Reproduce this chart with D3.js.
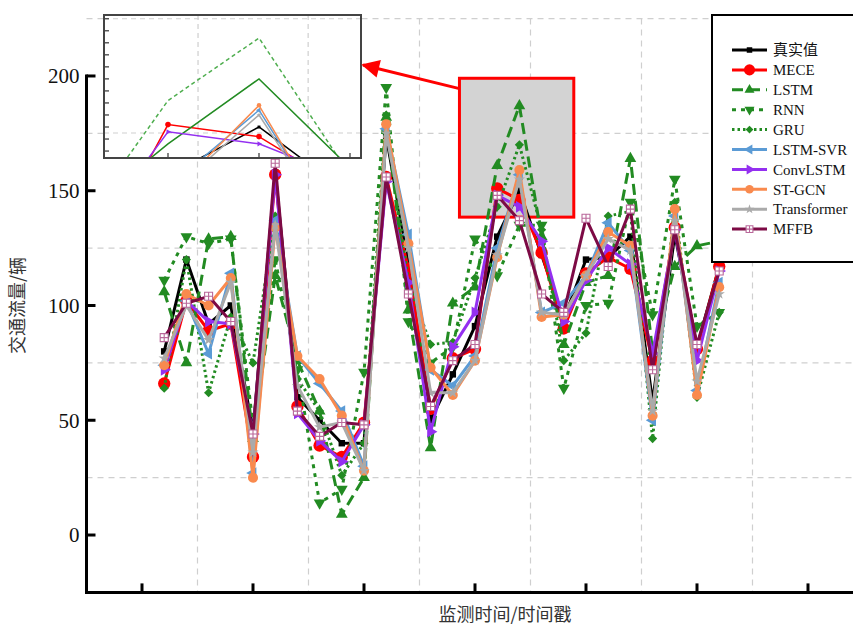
<!DOCTYPE html>
<html lang="zh">
<head>
<meta charset="UTF-8">
<title>交通流量预测对比</title>
<script src="https://cdn.jsdelivr.net/npm/d3@7"></script>
<style>
    body { margin: 0; background: #fff; }
    svg { display: block; font-family: "Liberation Serif", "Times New Roman", serif; }
</style>
</head>
<body>
<div id="chart"></div>
<script>
// time steps 1..26
const steps = d3.range(1, 27);

const truth       = [80, 120, 92, 100, 45, 158, 60, 50, 40, 40, 174, 118, 50, 70, 91, 130, 150, 122, 94, 120, 121, 130, 58, 131, 82, 117];
const mece        = [66, 102, 89, 92, 34, 157, 56, 39, 34, 49, 156, 116, 55, 77, 81, 151, 146, 123, 90, 114, 121, 116, 76, 134, 81, 117];
const lstm        = [106, 75, 129, 130, 42, 113, 76, 54, 9, 25, 182, 98, 38, 101, 108, 161, 187, 130, 83, 110, 113, 164, 80, 117, 126, 128];
const rnn         = [111, 130, 127, 129, 48, 120, 72, 14, 20, 71, 195, 93, 75, 82, 129, 113, 135, 135, 64, 100, 101, 145, 96, 155, 91, 97];
const gru         = [64, 120, 62, 95, 75, 139, 68, 54, 26, 40, 183, 110, 83, 84, 112, 143, 170, 133, 76, 88, 139, 141, 42, 145, 60, 97];
const lstmSvr     = [74, 102, 79, 114, 27, 137, 78, 66, 54, 30, 177, 131, 72, 65, 78, 125, 157, 97, 101, 113, 136, 124, 50, 139, 63, 110];
const convLstm    = [72, 102, 93, 92, 44, 157, 53, 41, 32, 48, 154, 110, 45, 82, 97, 148, 143, 128, 93, 111, 125, 118, 79, 133, 76, 115];
const stGcn       = [74, 105, 100, 112, 25, 134, 78, 68, 52, 28, 179, 127, 73, 61, 76, 121, 159, 95, 96, 113, 132, 126, 52, 142, 61, 108];
const transformer = [77, 100, 85, 110, 36, 135, 65, 47, 49, 28, 175, 125, 62, 62, 76, 122, 155, 97, 96, 113, 129, 124, 54, 137, 67, 105];
const mffb        = [86, 101, 104, 93, 44, 162, 54, 43, 49, 48, 156, 105, 56, 76, 83, 148, 137, 105, 97, 138, 117, 142, 72, 133, 83, 115];

const yTicks = [0, 50, 100, 150, 200];
const xTicks = [0, 5, 10, 15, 20, 25, 30];

// zoomed window shown in the inset
const zoomT = [14.3, 19.45];
const zoomV = [138.5, 199];

const series = [
    {name: "真实值",      values: truth,       color: "#000000", dash: null,      sym: "square"},
    {name: "MECE",        values: mece,        color: "#ff0000", dash: null,      sym: "circle"},
    {name: "LSTM",        values: lstm,        color: "#228b22", dash: "11,6",    sym: "up"},
    {name: "RNN",         values: rnn,         color: "#228b22", dash: "4,5",     sym: "down"},
    {name: "GRU",         values: gru,         color: "#228b22", dash: "2.5,3",   sym: "diamond"},
    {name: "LSTM-SVR",    values: lstmSvr,     color: "#5b9bd5", dash: null,      sym: "left"},
    {name: "ConvLSTM",    values: convLstm,    color: "#9430f0", dash: null,      sym: "right"},
    {name: "ST-GCN",      values: stGcn,       color: "#f98a4e", dash: null,      sym: "dot"},
    {name: "Transformer", values: transformer, color: "#aaaaaa", dash: null,      sym: "star"},
    {name: "MFFB",        values: mffb,        color: "#7d0a45", dash: null,      sym: "boxcross"}
];

const width = 853, height = 626;

const x = d3.scaleLinear().domain([-2.5, 32.5]).range([86.5, 863.5]);
const y = d3.scaleLinear().domain([-25, 225]).range([592.4, 18.6]);

const svg = d3.select("#chart").append("svg")
    .attr("width", width)
    .attr("height", height)
    .attr("viewBox", [0, 0, width, height]);

// marker drawing
function marker(g, sym, color, scale) {
    const s = scale || 1;
    let el;
    if (sym === "square") {
        el = g.append("path").attr("d", d3.symbol(d3.symbolSquare, 42 * s * s)()).attr("fill", color);
    } else if (sym === "circle") {
        el = g.append("path").attr("d", d3.symbol(d3.symbolCircle, 120 * s * s)()).attr("fill", color);
    } else if (sym === "dot") {
        el = g.append("path").attr("d", d3.symbol(d3.symbolCircle, 80 * s * s)()).attr("fill", color);
    } else if (sym === "up" || sym === "down" || sym === "left" || sym === "right") {
        const rot = {up: 0, down: 180, left: -90, right: 90}[sym];
        el = g.append("path").attr("d", d3.symbol(d3.symbolTriangle, 60 * s * s)())
            .attr("fill", color).attr("transform", `rotate(${rot})`);
    } else if (sym === "diamond") {
        el = g.append("path").attr("d", d3.symbol(d3.symbolSquare, 42 * s * s)())
            .attr("fill", color).attr("transform", "rotate(45)");
    } else if (sym === "star") {
        el = g.append("path").attr("d", d3.symbol(d3.symbolStar, 40 * s * s)()).attr("fill", color);
    } else if (sym === "boxcross") {
        const h = 4 * s;
        el = g.append("path")
            .attr("d", `M${-h},${-h}H${h}V${h}H${-h}Z M0,${-h}V${h} M${-h},0H${h}`)
            .attr("fill", "#fff").attr("stroke", "#b9689a").attr("stroke-width", 1.1);
    }
    return el;
}

// grid
const grid = svg.append("g")
    .attr("stroke", "#cfcfcf")
    .attr("stroke-width", 1.2)
    .attr("stroke-dasharray", "6,5");

grid.selectAll("line.h")
    .data([25, 75, 125, 175, 225])
    .join("line")
    .attr("x1", x(-2.5)).attr("x2", width)
    .attr("y1", d => y(d)).attr("y2", d => y(d));

grid.selectAll("line.v")
    .data([2.5, 7.5, 12.5, 17.5, 22.5, 27.5])
    .join("line")
    .attr("x1", d => x(d)).attr("x2", d => x(d))
    .attr("y1", y(225)).attr("y2", y(-25));

// zoom window rectangle
svg.append("rect")
    .attr("x", x(zoomT[0])).attr("y", y(zoomV[1]))
    .attr("width", x(zoomT[1]) - x(zoomT[0]))
    .attr("height", y(zoomV[0]) - y(zoomV[1]))
    .attr("fill", "#d3d3d3")
    .attr("stroke", "#ff0000")
    .attr("stroke-width", 3);

// series
const line = d3.line().x((d, i) => x(steps[i])).y(d => y(d));

series.forEach(s => {
    const g = svg.append("g");
    g.append("path")
        .attr("d", line(s.values))
        .attr("fill", "none")
        .attr("stroke", s.color)
        .attr("stroke-width", 3)
        .attr("stroke-linejoin", "round")
        .attr("stroke-dasharray", s.dash);
    s.values.forEach((v, i) => {
        const m = g.append("g").attr("transform", `translate(${x(steps[i])},${y(v)})`);
        marker(m, s.sym, s.color, 1);
    });
});

// inset
const inset = {x0: 104, y0: 15, x1: 361, y1: 158};
const ix = d3.scaleLinear().domain([16, 17]).range([168, 259]);
const iy = d3.scaleLinear().domain([150, 187]).range([127, 38]);

const ig = svg.append("g");
ig.append("rect")
    .attr("x", inset.x0).attr("y", inset.y0)
    .attr("width", inset.x1 - inset.x0).attr("height", inset.y1 - inset.y0)
    .attr("fill", "#fff");

svg.append("clipPath").attr("id", "insetClip")
    .append("rect")
    .attr("x", inset.x0).attr("y", inset.y0)
    .attr("width", inset.x1 - inset.x0).attr("height", inset.y1 - inset.y0);

const igc = ig.append("g").attr("clip-path", "url(#insetClip)");

igc.append("g")
    .attr("stroke", "#cfcfcf").attr("stroke-width", 1.2).attr("stroke-dasharray", "5,4")
    .selectAll("line")
    .data([16.33, 17.54])
    .join("line")
    .attr("x1", d => ix(d)).attr("x2", d => ix(d))
    .attr("y1", inset.y0).attr("y2", inset.y1);

igc.append("g")
    .attr("stroke", "#cfcfcf").attr("stroke-width", 1.2).attr("stroke-dasharray", "5,4")
    .selectAll("line")
    .data([147.5, 195])
    .join("line")
    .attr("x1", inset.x0).attr("x2", inset.x1)
    .attr("y1", d => iy(d)).attr("y2", d => iy(d));

const iline = d3.line().x((d, i) => ix(steps[i])).y(d => iy(d));
const insetStyle = {
    "LSTM": {color: "#4fae4f", dash: "4,3"},
    "GRU": {color: "#228b22", dash: null}
};
const insetSkip = ["RNN", "MFFB"];

series.filter(s => !insetSkip.includes(s.name)).forEach(s => {
    const st = insetStyle[s.name] || {color: s.color, dash: null};
    igc.append("path")
        .attr("d", iline(s.values))
        .attr("fill", "none")
        .attr("stroke", st.color)
        .attr("stroke-width", 1.5)
        .attr("stroke-dasharray", st.dash);
    if (!insetStyle[s.name]) {
        s.values.forEach((v, i) => {
            const m = igc.append("g").attr("transform", `translate(${ix(steps[i])},${iy(v)})`);
            marker(m, s.sym, s.color, 0.45);
        });
    }
});

// inset axes
const insetTicksY = d3.range(140, 200, 5);
ig.append("g").attr("stroke", "#333").attr("stroke-width", 1.2)
    .selectAll("line")
    .data(insetTicksY.filter(v => iy(v) > inset.y0 && iy(v) < inset.y1))
    .join("line")
    .attr("x1", inset.x0).attr("x2", inset.x0 + 5)
    .attr("y1", d => iy(d)).attr("y2", d => iy(d));

ig.append("g").attr("stroke", "#333").attr("stroke-width", 1.2)
    .selectAll("line")
    .data([16, 17, 18])
    .join("line")
    .attr("x1", d => ix(d)).attr("x2", d => ix(d))
    .attr("y1", inset.y1).attr("y2", inset.y1 - 5);

ig.append("rect")
    .attr("x", inset.x0).attr("y", inset.y0)
    .attr("width", inset.x1 - inset.x0).attr("height", inset.y1 - inset.y0)
    .attr("fill", "none")
    .attr("stroke", "#444")
    .attr("stroke-width", 2);

// arrow from zoom box to inset
svg.append("defs").append("marker")
    .attr("id", "arrowHead")
    .attr("viewBox", "0 0 10 10")
    .attr("refX", 9).attr("refY", 5)
    .attr("markerWidth", 8).attr("markerHeight", 6)
    .attr("markerUnits", "strokeWidth")
    .attr("orient", "auto")
    .append("path").attr("d", "M0,0L10,5L0,10Z").attr("fill", "#ff0000");

svg.append("line")
    .attr("x1", x(zoomT[0])).attr("y1", y(194.5))
    .attr("x2", inset.x1 + 2).attr("y2", 65)
    .attr("stroke", "#ff0000")
    .attr("stroke-width", 3)
    .attr("marker-end", "url(#arrowHead)");

// axes
const axes = svg.append("g").attr("stroke", "#000");

axes.append("line")
    .attr("x1", x(-2.5)).attr("x2", width)
    .attr("y1", y(-25)).attr("y2", y(-25))
    .attr("stroke-width", 3);

axes.append("line")
    .attr("x1", x(-2.5)).attr("x2", x(-2.5))
    .attr("y1", y(-25) + 1.5).attr("y2", y(200) - 1.5)
    .attr("stroke-width", 3);

axes.selectAll("line.yt")
    .data(yTicks)
    .join("line")
    .attr("x1", x(-2.5)).attr("x2", x(-2.5) + 9)
    .attr("y1", d => y(d)).attr("y2", d => y(d))
    .attr("stroke-width", 3);

axes.selectAll("line.xt")
    .data(xTicks)
    .join("line")
    .attr("x1", d => x(d)).attr("x2", d => x(d))
    .attr("y1", y(-25)).attr("y2", y(-25) - 9)
    .attr("stroke-width", 3);

svg.append("g")
    .selectAll("text")
    .data(yTicks)
    .join("text")
    .attr("x", x(-2.5) - 7)
    .attr("y", d => y(d))
    .attr("dy", "0.35em")
    .attr("text-anchor", "end")
    .attr("font-size", 21)
    .attr("fill", "#111")
    .text(d => d);

svg.append("text")
    .attr("transform", `translate(24,${y(100)}) rotate(-90)`)
    .attr("text-anchor", "middle")
    .attr("font-family", "'Noto Sans CJK SC', sans-serif")
    .attr("font-size", 18)
    .attr("fill", "#333")
    .text("交通流量/辆");

svg.append("text")
    .attr("x", 505)
    .attr("y", 621)
    .attr("text-anchor", "middle")
    .attr("font-family", "'Noto Sans CJK SC', sans-serif")
    .attr("font-size", 18)
    .attr("fill", "#333")
    .text("监测时间/时间戳");

// legend
const legend = svg.append("g");
legend.append("rect")
    .attr("x", 712).attr("y", 15)
    .attr("width", 160).attr("height", 247)
    .attr("fill", "#fff")
    .attr("stroke", "#000")
    .attr("stroke-width", 2);

series.forEach((s, i) => {
    const ly = 50 + i * 19.9;
    const row = legend.append("g");
    row.append("line")
        .attr("x1", 732).attr("x2", 767)
        .attr("y1", ly).attr("y2", ly)
        .attr("stroke", s.color)
        .attr("stroke-width", 3)
        .attr("stroke-dasharray", s.dash);
    const m = row.append("g").attr("transform", `translate(749.5,${ly})`);
    marker(m, s.sym, s.color, s.sym === "circle" ? 0.9 : 0.85);
    row.append("text")
        .attr("x", 773)
        .attr("y", ly)
        .attr("dy", "0.35em")
        .attr("font-size", 15)
        .attr("font-family", i === 0 ? "'Noto Sans CJK SC', sans-serif" : null)
        .attr("fill", "#111")
        .text(s.name);
});
</script>
</body>
</html>
